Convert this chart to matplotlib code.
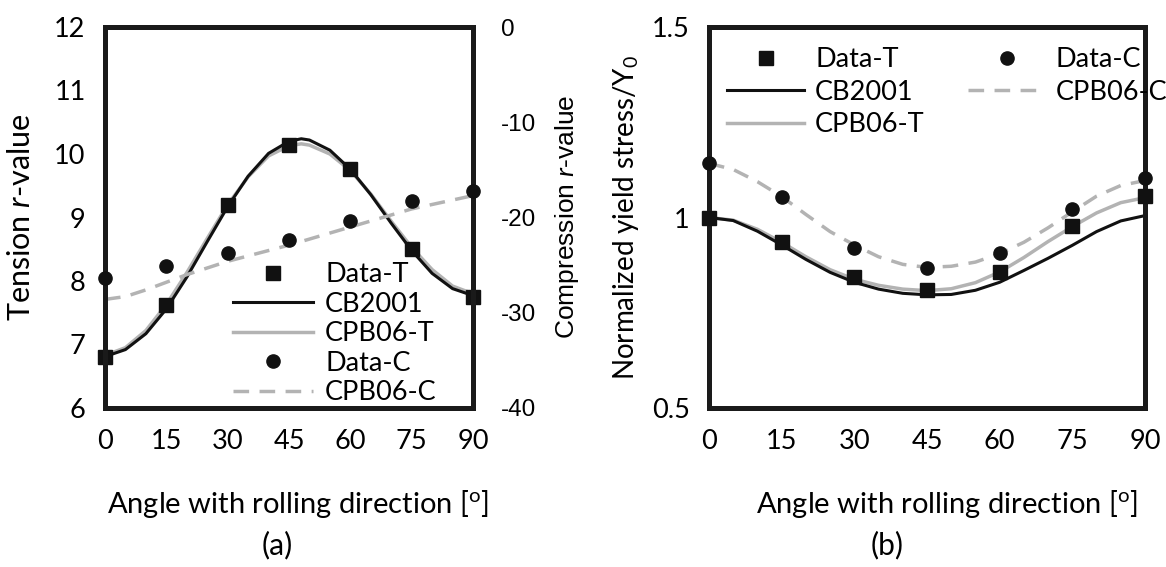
import matplotlib
matplotlib.use("Agg")
import matplotlib.pyplot as plt

# ---------------- data ----------------
angles = [0, 15, 30, 45, 60, 75, 90]

# panel (a)
tension_r = [6.80, 7.62, 9.20, 10.14, 9.76, 8.50, 7.75]
compression_r = [-26.4, -25.1, -23.7, -22.4, -20.4, -18.3, -17.2]

curve_ang = [0, 5, 10, 15, 20, 25, 30, 35, 40, 45, 48, 50, 55, 60, 65, 70, 75, 80, 85, 90]
cb2001_r = [6.81, 6.92, 7.17, 7.56, 8.06, 8.62, 9.17, 9.65, 10.01, 10.20, 10.24, 10.22,
            10.06, 9.76, 9.36, 8.91, 8.48, 8.12, 7.88, 7.77]
cpb06t_r = [6.83, 6.95, 7.22, 7.63, 8.13, 8.67, 9.20, 9.64, 9.97, 10.13, 10.16, 10.14,
            10.00, 9.74, 9.37, 8.94, 8.53, 8.18, 7.92, 7.80]
curve_ang_c = [0, 5, 10, 15, 20, 30, 45, 60, 75, 90]
cpb06c_r = [-28.6, -28.3, -27.6, -26.8, -26.0, -24.6, -22.9, -21.0, -19.1, -17.7]

# panel (b)
data_t_ys = [0.998, 0.935, 0.844, 0.811, 0.857, 0.979, 1.057]
data_c_ys = [1.142, 1.055, 0.920, 0.868, 0.907, 1.022, 1.103]
curve_ang_b = [0, 5, 10, 15, 20, 25, 30, 35, 40, 45, 50, 55, 60, 65, 70, 75, 80, 85, 90]
cb2001_ys = [1.000, 0.992, 0.964, 0.928, 0.890, 0.856, 0.830, 0.812, 0.801, 0.797, 0.798,
             0.809, 0.830, 0.861, 0.893, 0.927, 0.963, 0.991, 1.005]
cpb06t_ys = [1.000, 0.993, 0.969, 0.935, 0.897, 0.863, 0.838, 0.822, 0.812, 0.808, 0.813,
             0.829, 0.857, 0.895, 0.937, 0.976, 1.012, 1.039, 1.052]
cpb06c_ys = [1.142, 1.126, 1.094, 1.055, 1.008, 0.963, 0.928, 0.897, 0.877, 0.869, 0.872,
             0.883, 0.905, 0.935, 0.973, 1.015, 1.056, 1.084, 1.097]

xticks = [0, 15, 30, 45, 60, 75, 90]
yticks_a = [6, 7, 8, 9, 10, 11, 12]
yticks_a2 = [-40, -30, -20, -10, 0]
yticks_b = [0.5, 1, 1.5]
ytick_labels_b = ["0.5", "1", "1.5"]
legend_labels = ['Data-T', 'CB2001', 'CPB06-T', 'Data-C', 'CPB06-C']

# ---------------- style ----------------
plt.rcParams['font.family'] = ['Lato', 'DejaVu Sans']
plt.rcParams['mathtext.fontset'] = 'custom'
plt.rcParams['mathtext.rm'] = 'Lato'
plt.rcParams['mathtext.it'] = 'Lato:italic'
plt.rcParams['axes.unicode_minus'] = False

FS_TICK = 19.5
FS_LEG = 19.5
GRAY = '#b3b3b3'
BLACK = '#111111'
SPW = 3.6
DASH = (0, (4.5, 3))

fig = plt.figure(figsize=(11.66, 5.67), dpi=100)
W, H = 1166, 567


def ax_rect(x0, x1, y0, y1):
    return [x0 / W, 1 - y1 / H, (x1 - x0) / W, (y1 - y0) / H]


def style_axes(ax):
    for s in ax.spines.values():
        s.set_linewidth(SPW)
        s.set_color('#1a1a1a')
        s.set_zorder(4)
    ax.tick_params(length=0, labelsize=FS_TICK)


# ---------------- panel (a) ----------------
axa = fig.add_axes(ax_rect(105, 473, 27, 408))
axa2 = axa.twinx()
style_axes(axa)
style_axes(axa2)

l_cb, = axa.plot(curve_ang, cb2001_r, color=BLACK, lw=2.2, zorder=3)
l_pt, = axa.plot(curve_ang, cpb06t_r, color=GRAY, lw=2.5, zorder=2)
m_t, = axa.plot(angles, tension_r, 's', color=BLACK, ms=10, zorder=5, clip_on=False)
l_pc, = axa2.plot(curve_ang_c, cpb06c_r, color=GRAY, lw=2.5, ls=DASH, zorder=2)
m_c, = axa2.plot(angles, compression_r, 'o', color=BLACK, ms=9.5, zorder=5, clip_on=False)

axa.set_xlim(0, 90)
axa.set_ylim(6, 12)
axa2.set_ylim(-40, 0)
axa.set_xticks(xticks)
axa.set_yticks(yticks_a)
axa2.set_yticks(yticks_a2)
axa.tick_params(axis='x', pad=15)
axa.tick_params(axis='y', pad=14)
axa2.tick_params(axis='y', pad=20)
for lab in axa2.get_yticklabels():
    lab.set_fontfamily('Liberation Sans')
    lab.set_fontsize(17.5)

axa.set_ylabel('Tension $r$-value', fontsize=22, labelpad=14)
fig.text(567 / W, 1 - 217 / H, 'Compression $\\it{r}$-value', rotation=90, fontsize=19,
         family='Liberation Sans', ha='center', va='center')
fig.text(298 / W, 1 - 504 / H, 'Angle with rolling direction [$^{\\mathrm{o}}$]', fontsize=21,
         ha='center', va='center')
fig.text(277 / W, 1 - 545 / H, '(a)', fontsize=21.5, ha='center', va='center')

handles_a = [m_t, l_cb, l_pt, m_c, l_pc]
axa2.legend(handles_a, legend_labels, loc='upper left', bbox_to_anchor=(233 / W, 1 - 262 / H),
            bbox_transform=fig.transFigure, frameon=False, fontsize=FS_LEG,
            handlelength=2.95, handletextpad=0.45, labelspacing=0.17, borderpad=0,
            borderaxespad=0)

axa2.set_zorder(axa.get_zorder() + 1)
axa2.patch.set_visible(False)

# ---------------- panel (b) ----------------
axb = fig.add_axes(ax_rect(709, 1145, 27, 408))
style_axes(axb)
b_cb, = axb.plot(curve_ang_b, cb2001_ys, color=BLACK, lw=2.2, zorder=3)
b_pt, = axb.plot(curve_ang_b, cpb06t_ys, color=GRAY, lw=2.5, zorder=2)
b_pc, = axb.plot(curve_ang_b, cpb06c_ys, color=GRAY, lw=2.5, ls=DASH, zorder=2)
b_t, = axb.plot(angles, data_t_ys, 's', color=BLACK, ms=10, zorder=5, clip_on=False)
b_c, = axb.plot(angles, data_c_ys, 'o', color=BLACK, ms=9.5, zorder=5, clip_on=False)
axb.set_xlim(0, 90)
axb.set_ylim(0.5, 1.5)
axb.set_xticks(xticks)
axb.set_yticks(yticks_b)
axb.set_yticklabels(ytick_labels_b)
axb.tick_params(axis='x', pad=15)
axb.tick_params(axis='y', pad=14)
axb.set_ylabel('Normalized yield stress/Y$_0$', fontsize=20, labelpad=8)
fig.text(947 / W, 1 - 504 / H, 'Angle with rolling direction [$^{\\mathrm{o}}$]', fontsize=21,
         ha='center', va='center')
fig.text(887 / W, 1 - 545 / H, '(b)', fontsize=21.5, ha='center', va='center')

handles_b = [b_t, b_cb, b_pt, b_c, b_pc]
axb.legend(handles_b, legend_labels, ncol=2, loc='upper left',
           bbox_to_anchor=(727 / W, 1 - 47 / H), bbox_transform=fig.transFigure,
           frameon=False, fontsize=FS_LEG, handlelength=2.85, handletextpad=0.4,
           labelspacing=0.28, columnspacing=1.6, borderpad=0, borderaxespad=0)

fig.savefig('out.png', dpi=100)
